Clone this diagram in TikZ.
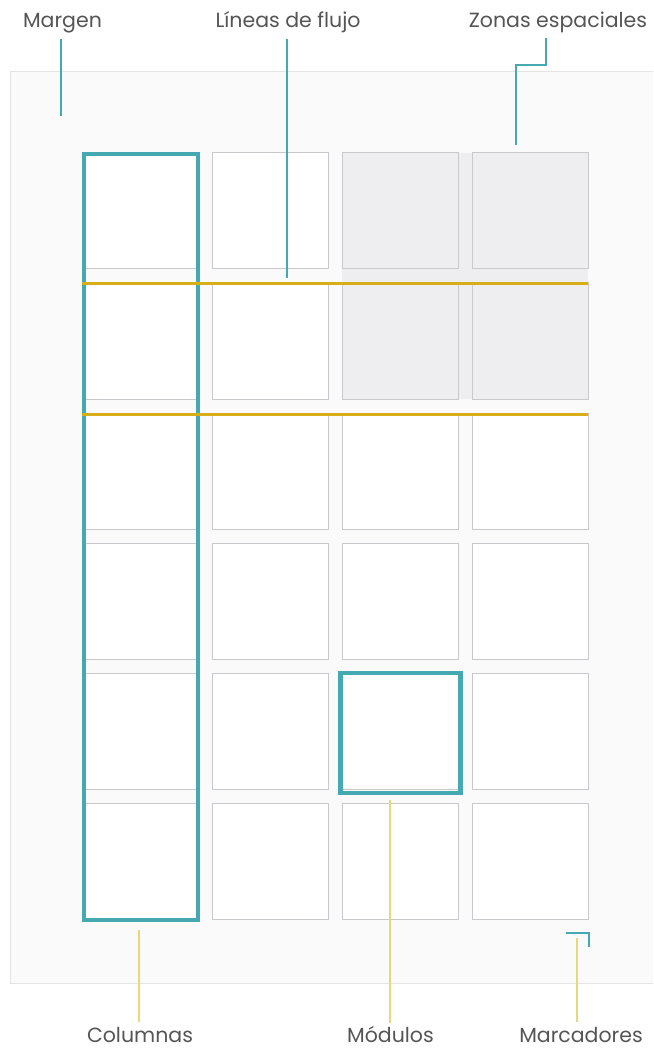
\documentclass[tikz,border=0pt]{standalone}
\usepackage{fontspec}
\setmainfont{Poppins}
\definecolor{teal1}{HTML}{45A9B2}
\definecolor{gold1}{HTML}{D8AE18}
\definecolor{pale}{HTML}{E9D77E}
\definecolor{cellb}{HTML}{C9C9CD}
\definecolor{zone}{HTML}{EEEEF0}
\definecolor{pageb}{HTML}{E4E4E4}
\definecolor{pagef}{HTML}{FAFAFA}
\definecolor{txt}{HTML}{555555}
\begin{document}
\begin{tikzpicture}[x=1pt,y=-1pt,
  cellbox/.style={draw=cellb, line width=1pt, fill=#1, minimum size=116pt, inner sep=0pt, outer sep=0pt},
  lbl/.style={font=\fontsize{20.5}{20.5}\selectfont, text=txt, anchor=base, inner sep=0pt},
  leadteal/.style={draw=teal1, line width=1.3pt},
  leadgold/.style={draw=pale, line width=1.2pt},
  hilite/.style={draw=teal1, line width=4.2pt},
  flow/.style={draw=gold1, line width=3pt}]
\useasboundingbox (0,0) rectangle (653,1048);
\clip (0,0) rectangle (653,1048);
\fill[white] (0,0) rectangle (653,1048);
\draw[draw=pageb, fill=pagef, line width=1pt] (10,72) rectangle (662,983);
\fill[zone] (342,153) rectangle (588,399);
\foreach \r in {1,...,6}{
  \foreach \c in {1,...,4}{
    \def\cf{white}
    \ifnum\r<3 \ifnum\c>2 \def\cf{zone}\fi\fi
    \node[cellbox=\cf] (c\r\c) at ({140+130*(\c-1)},{211+130*(\r-1)}) {};
  }
}
% columna
\draw[hilite] ([shift={(2,1)}]c11.north west) rectangle ([shift={(0,1)}]c61.south east);
% modulo
\draw[hilite, line width=4.5pt] ([shift={(-1.5,0)}]c53.north west) rectangle ([shift={(2.5,4)}]c53.south east);
% lineas de flujo
\draw[flow] ([shift={(0,1)}]c21.north west) -- ([shift={(0,1)}]c24.north east);
\draw[flow] ([shift={(0,1)}]c31.north west) -- ([shift={(0,1)}]c34.north east);
% labels
\node[lbl] (margen) at (62.5,28) {Margen};
\node[lbl] (flujo) at (288,28) {Líneas de flujo};
\node[lbl] (zonas) at (558,28) {Zonas espaciales};
\node[lbl] (colum) at (140,1042) {Columnas};
\node[lbl] (modul) at (390.5,1042) {Módulos};
\node[lbl] (marca) at (581,1042) {Marcadores};
% leader lines
\coordinate (mEnd) at (61,116);
\draw[leadteal, shorten <=5pt] (margen.south -| mEnd) -- (mEnd);
\coordinate (fEnd) at (287,278);
\draw[leadteal, shorten <=5pt] (flujo.south -| fEnd) -- (fEnd);
\coordinate (zA) at (546,65);
\coordinate (zB) at (516,65);
\coordinate (zEnd) at (516,145);
\draw[leadteal, shorten <=4pt] (zonas.south -| zA) -- (zA) -- (zB) -- (zEnd);
\coordinate (cA) at (139,930);
\draw[leadgold, shorten >=5pt] (cA) -- (colum.north -| cA);
\coordinate (moA) at (390,800);
\draw[leadgold, shorten >=3pt] (moA) -- (modul.north -| moA);
\coordinate (maA) at (577,938);
\draw[leadgold, shorten >=5pt] (maA) -- (marca.north -| maA);
% marcador
\coordinate (mk1) at (566,933);
\coordinate (mk2) at (589,933);
\coordinate (mk3) at (589,947);
\draw[leadteal] (mk1) -- (mk2) -- (mk3);
\end{tikzpicture}
\end{document}
